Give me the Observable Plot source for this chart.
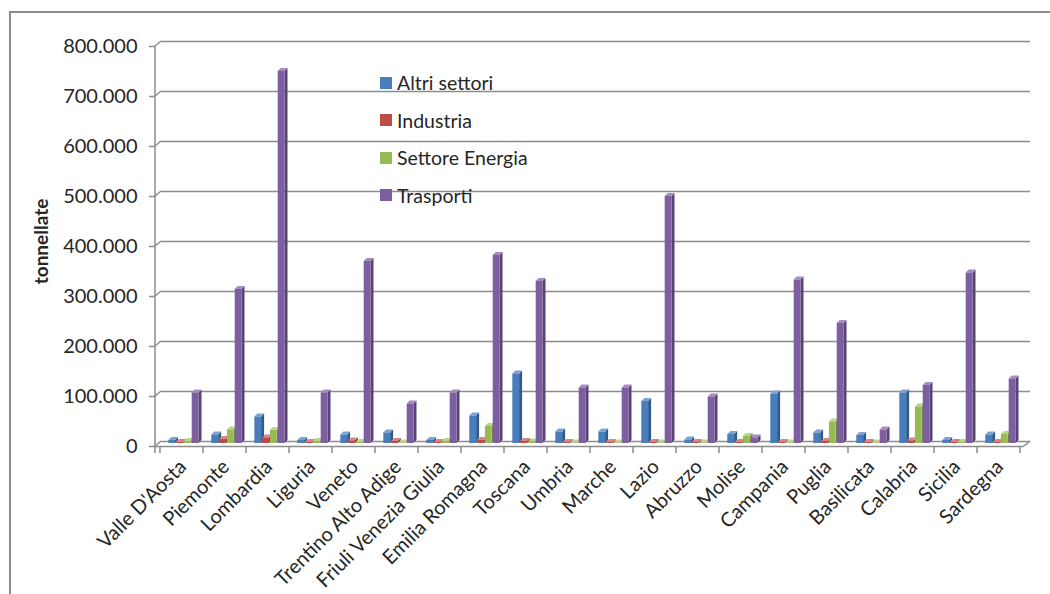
<!DOCTYPE html>
<html><head><meta charset="utf-8">
<script src="https://cdn.jsdelivr.net/npm/d3@7"></script>
<script src="https://cdn.jsdelivr.net/npm/@observablehq/plot@0.6"></script>
<style>
body{margin:0;background:#fff;font-family:Lato,"DejaVu Sans",sans-serif;}
#wrap{position:relative;width:1050px;height:594px;overflow:hidden;background:#fff;}
#border{position:absolute;left:9px;top:11px;width:1100px;height:700px;border-left:2px solid #8c8c8c;border-top:2px solid #8c8c8c;pointer-events:none;}
#legend{position:absolute;left:380px;top:0;}
.item{position:absolute;left:0;height:24px;display:flex;align-items:center;white-space:nowrap;font-size:19.5px;color:#262626;font-family:Lato,sans-serif;}
.sw{width:12px;height:12px;margin-right:5px;flex:none;}
</style></head><body><div id="wrap"></div>
<script>
const regions = ["Valle D'Aosta","Piemonte","Lombardia","Liguria","Veneto","Trentino Alto Adige","Friuli Venezia Giulia","Emilia Romagna","Toscana","Umbria","Marche","Lazio","Abruzzo","Molise","Campania","Puglia","Basilicata","Calabria","Sicilia","Sardegna"];
const series = ["Altri settori","Industria","Settore Energia","Trasporti"];
const altriSettori   = [6000,17000,53000,6000,17000,21000,6000,55000,139000,23000,23000,84000,7000,18000,99000,21000,16000,101000,6000,17000];
const industria      = [2000,8000,11000,2000,5000,4000,2000,6000,4000,2000,2000,2000,2000,2000,2000,4000,2000,5000,2000,2000];
const settoreEnergia = [4000,27000,26000,4000,2000,1000,4000,34000,3000,1000,1000,1000,1000,14000,1000,43000,1000,73000,2000,18000];
const trasporti      = [101000,308000,744000,101000,364000,79000,101000,376000,324000,111000,111000,494000,93000,11000,327000,240000,27000,116000,341000,129000];
const yTicks = [0,100000,200000,300000,400000,500000,600000,700000,800000];

const frontColors = ["#4A7EBB","#BE4B48","#98B954","#7D5FA0"];
const sideColors  = ["#2F5A8C","#8C3130","#6E8B37","#5A4279"];
const topColors   = ["#7EA3D2","#D98584","#BCD38A","#A48CC1"];
const gridColor = "#8c8c8c";
const textColor = "#262626";

const seriesValues = [altriSettori, industria, settoreEnergia, trasporti];
const data = regions.flatMap((r, i) => series.map((s, k) => ({region: r, series: s, k, value: seriesValues[k][i]})));

const itFmt = d3.formatLocale({decimal: ",", thousands: ".", grouping: [3], currency: ["€", ""]}).format(",");

function bars3d(index, scales, values, dims) {
  const g = d3.create("svg:g");
  for (const i of index) {
    const d = data[i];
    const x0 = scales.x(d.region) + 8.3 + d.k * 7.8;
    const w = 6.8, dep = 3;
    const yb = scales.y(0) - 3, yt = scales.y(d.value) - 3;
    g.append("path").attr("d", `M${x0 + w},${yb}L${x0 + w + dep},${yb - dep}L${x0 + w + dep},${yt - dep}L${x0 + w},${yt}Z`).attr("fill", sideColors[d.k]);
    g.append("path").attr("d", `M${x0},${yt}L${x0 + dep},${yt - dep}L${x0 + w + dep},${yt - dep}L${x0 + w},${yt}Z`).attr("fill", topColors[d.k]);
    g.append("rect").attr("x", x0).attr("y", yt).attr("width", w).attr("height", Math.max(0, yb - yt)).attr("fill", frontColors[d.k]);
  }
  return g.node();
}

function frame3d(index, scales, values, dims) {
  const g = d3.create("svg:g").attr("stroke", gridColor).attr("stroke-width", 1.5).attr("fill", "none");
  const xl = dims.marginLeft, xr = dims.width - dims.marginRight;
  const y0 = scales.y(0);
  for (const i of index) {
    const y = scales.y(yTicks[i]);
    g.append("path").attr("d", `M${xl},${y}L${xl + 6},${y - 5}`);
  }
  g.append("path").attr("d", `M${xr},${y0}L${xr + 6},${y0 - 5}`);
  g.append("path").attr("d", `M${xl},${scales.y(800000)}L${xl},${y0 + 7}`);
  const bw = scales.x.bandwidth();
  for (const r of regions) {
    const x = scales.x(r);
    g.append("path").attr("d", `M${x},${y0}L${x},${y0 + 7}`);
  }
  const xe = scales.x(regions[regions.length - 1]) + bw;
  g.append("path").attr("d", `M${xe},${y0}L${xe},${y0 + 7}`);
  return g.node();
}

const chart = Plot.plot({
  width: 1050,
  height: 594,
  marginLeft: 155,
  marginRight: 26,
  marginTop: 46,
  marginBottom: 148,
  style: {fontFamily: "Lato, sans-serif", fontSize: "20px", background: "transparent"},
  x: {type: "band", domain: regions, padding: 0, axis: null, label: null},
  y: {domain: [0, 800000], axis: null, label: null},
  marks: [
    Plot.ruleY(yTicks, {dx: 6, dy: -5, stroke: gridColor, strokeWidth: 1.5}),
    Plot.ruleY(yTicks, {render: frame3d}),
    Plot.ruleY([0], {stroke: gridColor, strokeWidth: 1.5}),
    Plot.barY(data, {x: "region", y1: 0, y2: "value", render: bars3d}),
    Plot.axisY({ticks: yTicks, label: null, tickSize: 6, tickPadding: 12, tickFormat: itFmt, fontSize: 20, stroke: gridColor, strokeWidth: 1.5, fill: textColor}),
    Plot.axisX({label: null, tickSize: 0, tickPadding: 17, tickRotate: -45, fontSize: 20, fill: textColor, dx: 1}),
    Plot.text(["tonnellate"], {frameAnchor: "left", textAnchor: "middle", rotate: -90, dx: -114, dy: -5, fontWeight: "bold", fontSize: 19, fill: textColor})
  ]
});

const wrap = document.getElementById("wrap");
wrap.appendChild(chart);
const border = document.createElement("div");
border.id = "border";
wrap.appendChild(border);

const legend = document.createElement("div");
legend.id = "legend";
series.forEach((s, k) => {
  const item = document.createElement("div");
  item.className = "item";
  item.style.top = (82.5 + k * 37.5 - 12) + "px";
  const sw = document.createElement("span");
  sw.className = "sw";
  sw.style.background = frontColors[k];
  const label = document.createElement("span");
  label.textContent = s;
  item.appendChild(sw);
  item.appendChild(label);
  legend.appendChild(item);
});
wrap.appendChild(legend);
</script>
</body></html>
